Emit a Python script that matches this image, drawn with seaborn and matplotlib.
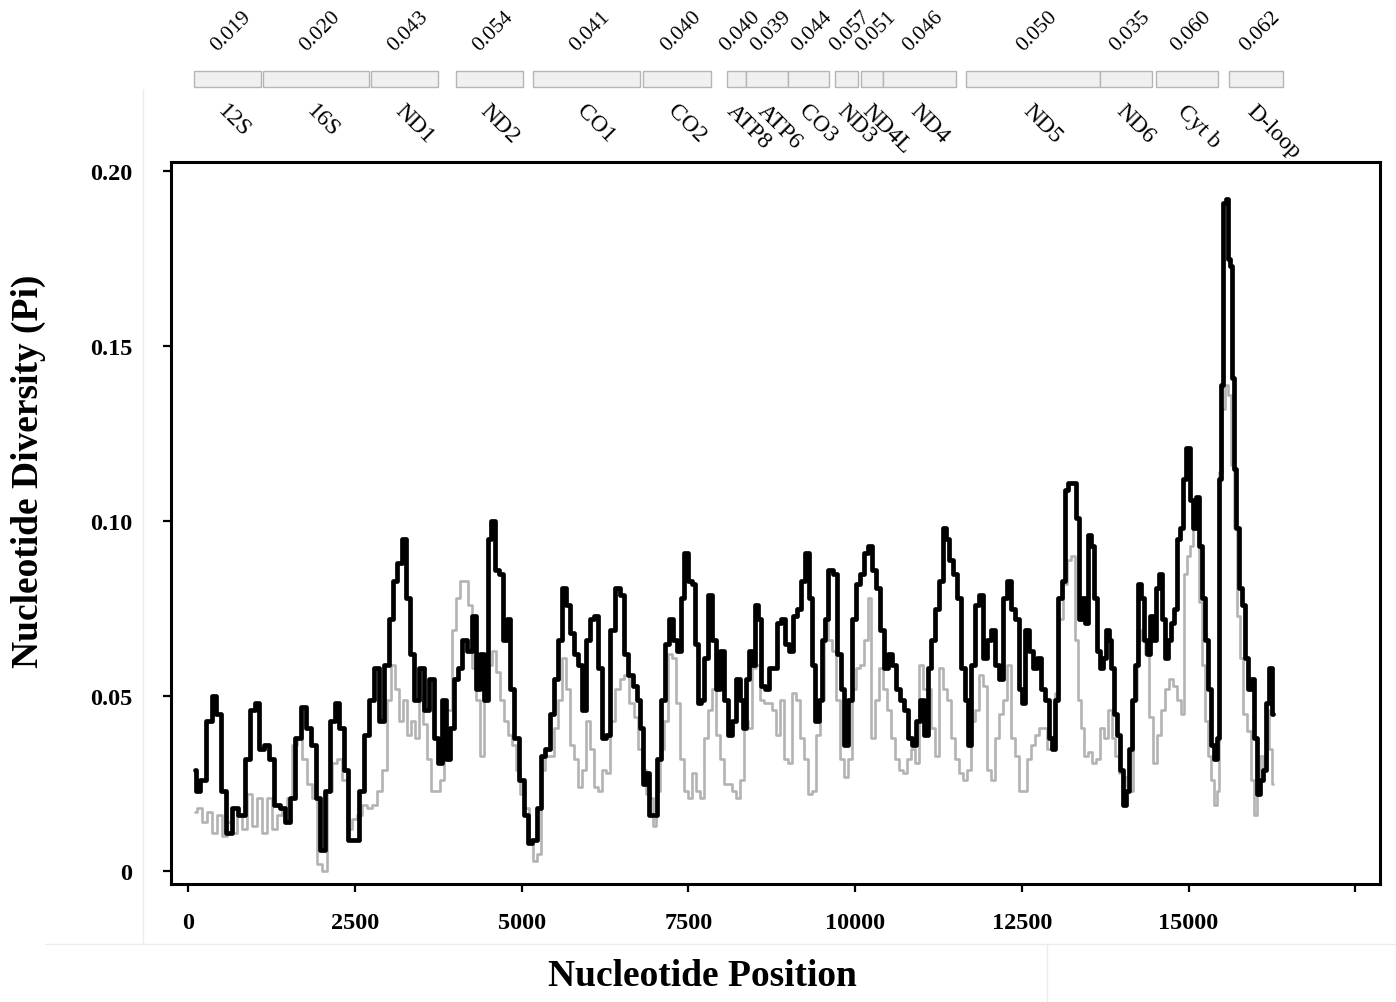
import matplotlib
matplotlib.use("Agg")
import matplotlib.pyplot as plt
import matplotlib.transforms as mtransforms
from matplotlib.patches import Rectangle
from matplotlib.lines import Line2D
import seaborn as sns
import pandas as pd

# ---------------- data ----------------
black_pos = [100,140,220,320,380,440,530,610,700,800,890,970,1030,1100,1180,1250,1330,1420,1490,1570,1640,1730,1810,1880,1940,2020,2090,2170,2230,2300,2380,2420,2510,2600,2680,
             2750,2830,2900,2980,3040,3100,3170,3230,3290,3350,3430,3500,3580,3650,3710,3770,3830,3890,3950,4010,4070,4150,4220,4280,4340,4400,4460,4520,4570,4630,4690,4750,4810,4850,4930,5000,5080,5120,5200,5260,5320,5390,5450,5510,
             5570,5630,5690,5750,5810,5870,5930,5990,6050,6110,6170,6230,6290,6370,6440,6500,6560,6640,6700,6760,6800,6850,6890,6940,7000,7060,7120,7180,7240,7300,7360,7420,7460,7520,7580,7630,7670,7720,7760,7820,7880,7940,8000,8060,8120,8180,8240,8300,8350,
             8390,8440,8480,8530,8570,8620,8680,8740,8800,8860,8920,8980,9040,9100,9160,9220,9280,9320,9370,9430,9470,9520,9560,9620,9700,9760,9800,9860,9920,9980,10040,10100,10160,10220,10280,10340,10400,10460,10520,10580,10640,10700,10760,10820,10880,10940,11000,11060,
             11110,11170,11230,11290,11330,11380,11440,11500,11560,11620,11680,11710,11770,11830,11890,11950,12010,12070,12130,12190,12250,12310,12370,12430,12470,12520,12580,12640,12700,12760,12820,12880,12920,12970,13010,13070,13120,13160,13220,13280,13330,13370,13420,13460,13510,13550,13600,13640,13690,13730,13780,13820,
             13850,13900,13940,13990,14030,14080,14120,14170,14210,14260,14300,14350,14390,14440,14480,14530,14570,14620,14660,14710,14750,14800,14840,14890,14930,14990,15040,15080,15130,15170,15220,15260,15310,15350,15400,15440,15470,15500,15530,15580,15610,15640,15670,15700,15730,15770,15820,15860,15910,15950,16000,16040,16090,16130,16180,16220,16270]
black_pi = [0.029,0.023,0.026,0.043,0.050,0.045,0.023,0.011,0.018,0.016,0.032,0.046,0.048,0.035,0.036,0.032,0.019,0.018,0.014,0.021,0.038,0.047,0.041,0.036,0.021,0.006,0.023,0.043,0.048,0.041,0.029,0.009,0.009,0.023,0.039,
            0.049,0.058,0.043,0.059,0.072,0.083,0.088,0.095,0.078,0.062,0.049,0.058,0.046,0.055,0.038,0.031,0.049,0.032,0.041,0.055,0.058,0.066,0.063,0.073,0.052,0.062,0.049,0.095,0.100,0.086,0.085,0.066,0.072,0.052,0.038,0.026,0.016,0.008,0.009,0.018,0.033,0.035,0.045,0.055,
            0.066,0.081,0.076,0.068,0.062,0.059,0.046,0.066,0.072,0.073,0.058,0.038,0.039,0.069,0.081,0.079,0.062,0.056,0.053,0.049,0.041,0.025,0.028,0.016,0.016,0.032,0.049,0.065,0.072,0.066,0.063,0.078,0.091,0.083,0.082,0.065,0.048,0.049,0.061,0.079,0.066,0.052,0.063,0.049,0.039,0.043,0.055,0.049,0.041,
            0.055,0.063,0.059,0.076,0.072,0.053,0.052,0.058,0.058,0.071,0.072,0.065,0.063,0.073,0.075,0.083,0.091,0.078,0.059,0.043,0.049,0.066,0.072,0.086,0.085,0.062,0.052,0.036,0.049,0.072,0.082,0.085,0.091,0.093,0.086,0.081,0.069,0.058,0.062,0.059,0.052,0.049,0.046,0.038,0.036,0.043,0.049,0.039,
            0.058,0.066,0.075,0.083,0.098,0.095,0.089,0.085,0.078,0.058,0.049,0.036,0.059,0.076,0.079,0.061,0.066,0.069,0.059,0.055,0.078,0.083,0.075,0.072,0.052,0.048,0.069,0.063,0.058,0.061,0.052,0.049,0.038,0.035,0.049,0.078,0.083,0.109,0.111,0.111,0.101,0.072,0.078,0.071,0.096,0.093,0.078,0.063,0.058,0.061,0.069,0.066,
            0.058,0.045,0.039,0.029,0.019,0.023,0.035,0.049,0.059,0.082,0.078,0.066,0.062,0.073,0.066,0.081,0.085,0.072,0.061,0.066,0.071,0.075,0.095,0.098,0.112,0.121,0.106,0.098,0.107,0.093,0.078,0.066,0.052,0.036,0.032,0.038,0.112,0.139,0.191,0.192,0.175,0.173,0.141,0.115,0.098,0.081,0.076,0.061,0.052,0.055,0.038,0.022,0.026,0.029,0.048,0.058,0.045]

gray_pos = [100,170,250,320,400,470,550,620,700,770,850,920,1000,1070,1150,1220,1300,1370,1450,1520,1600,1670,1750,1820,1900,1970,2030,2120,2200,2270,2350,2420,2500,2570,2650,2720,
            2800,2870,2950,3010,3070,3130,3190,3250,3310,3370,3430,3490,3550,3610,3670,3740,3800,3860,3920,3980,4040,4100,4160,4220,4280,4340,4400,4460,4520,4580,4640,4700,4760,4820,4880,4940,5000,5080,5140,5200,5260,5320,5390,5450,5510,
            5570,5630,5690,5750,5810,5870,5930,5990,6050,6110,6170,6230,6290,6370,6440,6500,6580,6650,6710,6770,6830,6890,6950,7000,7040,7100,7160,7220,7280,7340,7400,7460,7520,7580,7640,7700,7760,7820,7880,7940,8000,8060,8120,8180,8240,8300,
            8360,8420,8480,8540,8600,8660,8720,8780,8840,8900,8960,9020,9080,9140,9200,9260,9320,9380,9440,9500,9560,9620,9680,9740,9800,9860,9920,9980,10040,10100,10160,10210,10270,10330,10390,10450,10510,10570,10630,10690,10750,10810,10870,10930,10990,11050,
            11110,11170,11230,11290,11350,11410,11470,11530,11590,11650,11710,11770,11830,11890,11950,12010,12070,12130,12190,12250,12310,12370,12430,12490,12550,12610,12670,12730,12790,12850,12910,12970,13030,13090,13150,13210,13270,13310,13360,13400,13460,13520,13580,13640,13700,13760,13820,
            13870,13930,13970,14020,14080,14140,14200,14260,14320,14380,14440,14500,14560,14620,14680,14740,14800,14860,14900,14950,14990,15040,15080,15130,15170,15220,15260,15310,15350,15400,15440,15470,15520,15560,15610,15650,15700,15740,15790,15850,15910,15950,16000,16040,16090,16130,16180,16220,16270]
gray_pi = [0.017,0.018,0.014,0.017,0.011,0.016,0.010,0.014,0.011,0.016,0.012,0.022,0.013,0.021,0.011,0.021,0.012,0.016,0.018,0.021,0.036,0.038,0.032,0.025,0.021,0.002,0.000,0.023,0.031,0.032,0.026,0.012,0.015,0.016,0.019,0.018,
           0.019,0.023,0.029,0.049,0.059,0.052,0.043,0.049,0.039,0.043,0.038,0.049,0.042,0.032,0.023,0.023,0.026,0.046,0.046,0.069,0.078,0.083,0.083,0.076,0.058,0.049,0.033,0.049,0.059,0.063,0.057,0.049,0.043,0.039,0.036,0.029,0.022,0.018,0.009,0.003,0.005,0.029,0.033,0.033,0.041,
           0.049,0.061,0.052,0.036,0.032,0.024,0.029,0.043,0.035,0.024,0.023,0.029,0.028,0.043,0.052,0.055,0.056,0.048,0.044,0.035,0.029,0.022,0.021,0.013,0.023,0.035,0.043,0.062,0.061,0.048,0.032,0.023,0.021,0.028,0.023,0.021,0.038,0.046,0.052,0.039,0.032,0.025,0.025,0.023,0.021,0.026,
           0.043,0.041,0.058,0.059,0.049,0.048,0.048,0.046,0.039,0.049,0.032,0.031,0.051,0.049,0.038,0.032,0.022,0.023,0.039,0.049,0.072,0.066,0.063,0.049,0.032,0.027,0.032,0.052,0.058,0.059,0.066,0.078,0.038,0.049,0.058,0.052,0.046,0.038,0.032,0.029,0.028,0.032,0.035,0.031,0.059,0.052,
           0.052,0.041,0.033,0.058,0.052,0.049,0.038,0.032,0.028,0.026,0.029,0.043,0.046,0.056,0.053,0.029,0.026,0.038,0.045,0.049,0.059,0.038,0.033,0.023,0.023,0.032,0.036,0.039,0.041,0.041,0.035,0.036,0.051,0.072,0.082,0.089,0.090,0.066,0.049,0.041,0.033,0.034,0.031,0.032,0.041,0.038,0.046,
           0.038,0.033,0.028,0.024,0.027,0.023,0.049,0.069,0.066,0.062,0.044,0.031,0.039,0.046,0.052,0.055,0.053,0.049,0.045,0.085,0.090,0.093,0.103,0.101,0.077,0.059,0.043,0.033,0.026,0.019,0.023,0.114,0.132,0.139,0.136,0.116,0.098,0.073,0.061,0.045,0.040,0.026,0.016,0.023,0.033,0.029,0.046,0.035,0.025]

gene_names = ["12S", "16S", "ND1", "ND2", "CO1", "CO2", "ATP8", "ATP6", "CO3", "ND3",
              "ND4L", "ND4", "ND5", "ND6", "Cyt b", "D-loop"]
gene_start = [80, 1120, 2740, 4010, 5170, 6820, 8080, 8360, 8990, 9700,
              10090, 10420, 11660, 13670, 14510, 15610]
gene_end = [1090, 2710, 3740, 5020, 6770, 7840, 8360, 8990, 9610, 10040,
            10420, 11510, 13670, 14450, 15440, 16420]
gene_pi = ["0.019", "0.020", "0.043", "0.054", "0.041", "0.040", "0.040", "0.039",
           "0.044", "0.057", "0.051", "0.046", "0.050", "0.035", "0.060", "0.062"]

x_ticks = [0, 2500, 5000, 7500, 10000, 12500, 15000, 17500]
x_ticklabels = ["0", "2500", "5000", "7500", "10000", "12500", "15000", ""]
y_ticks = [0, 0.05, 0.10, 0.15, 0.20]
y_ticklabels = ["0", "0.05", "0.10", "0.15", "0.20"]

# ---------------- figure ----------------
sns.set_style("white")
plt.rcParams['font.family'] = ['Liberation Serif', 'DejaVu Serif']
plt.rcParams['text.color'] = 'black'
plt.rcParams['axes.labelcolor'] = 'black'
plt.rcParams['xtick.color'] = 'black'
plt.rcParams['ytick.color'] = 'black'

W, H = 1396, 1003
fig = plt.figure(figsize=(W / 100, H / 100), dpi=100)
ax = fig.add_axes([171 / W, 1 - 885 / H, (1380 - 171) / W, (885 - 163) / H])

df_gray = pd.DataFrame({"pos": gray_pos, "pi": gray_pi})
df_black = pd.DataFrame({"pos": black_pos, "pi": black_pi})
sns.lineplot(data=df_gray, x="pos", y="pi", ax=ax, color="#b3b3b3", linewidth=1.9,
             drawstyle="steps-mid", estimator=None, sort=False)
sns.lineplot(data=df_black, x="pos", y="pi", ax=ax, color="black", linewidth=3.4,
             drawstyle="steps-mid", estimator=None, sort=False)

ax.set_xlim(-262, 17872)
ax.set_ylim(-0.0037, 0.2026)
ax.set_xticks(x_ticks)
ax.set_xticklabels(x_ticklabels)
ax.set_yticks(y_ticks)
ax.set_yticklabels(y_ticklabels)
ax.set_xlabel("")
ax.set_ylabel("")
for s in ax.spines.values():
    s.set_visible(True)
    s.set_color("black")
    s.set_linewidth(2.2)
ax.tick_params(axis="both", direction="out", length=6, width=1.6, colors="black",
               labelsize=17.5, bottom=True, left=True)
ax.tick_params(axis="y", pad=22)
ax.tick_params(axis="x", pad=14)
for lab in ax.get_xticklabels() + ax.get_yticklabels():
    lab.set_fontweight("bold")
    lab.set_color("black")

fig.text(702 / W, 1 - 977 / H, "Nucleotide Position", ha="center", va="center",
         fontsize=27, fontweight="bold", color="black")
fig.text(28 / W, 1 - 471 / H, "Nucleotide Diversity (Pi)", ha="center", va="center",
         rotation=90, fontsize=27, fontweight="bold", color="black")

# gene boxes and labels on top
blend = mtransforms.blended_transform_factory(ax.transData, fig.transFigure)
box_y0 = 1 - 88 / H
box_h = 16 / H
for name, s, e, v in zip(gene_names, gene_start, gene_end, gene_pi):
    rect = Rectangle((s, box_y0), e - s, box_h, transform=blend, facecolor="#f0f0f0",
                     edgecolor="#b5b5b5", linewidth=1.0, clip_on=False)
    fig.add_artist(rect)
    c = (s + e) / 2
    tv = mtransforms.offset_copy(blend, fig=fig, x=4, y=0, units="dots")
    fig.text(c, 1 - 56 / H, v, transform=tv, rotation=45, ha="center", va="bottom",
             fontsize=15.5, color="black")
    tn = mtransforms.offset_copy(blend, fig=fig, x=-14, y=0, units="dots")
    fig.text(c, 1 - 101 / H, name, transform=tn, rotation=-45, ha="left", va="top",
             fontsize=17, color="black")

# faint panel guide lines of the original layout
lc = "#ececec"
fig.add_artist(Line2D([143 / W, 143 / W], [1 - 90 / H, 1 - 945 / H], color=lc, lw=1,
                      transform=fig.transFigure))
fig.add_artist(Line2D([45 / W, 1.0], [1 - 945 / H, 1 - 945 / H], color=lc, lw=1,
                      transform=fig.transFigure))
fig.add_artist(Line2D([1047 / W, 1047 / W], [1 - 945 / H, 0.0], color=lc, lw=1,
                      transform=fig.transFigure))

fig.savefig("out.png", dpi=100)
